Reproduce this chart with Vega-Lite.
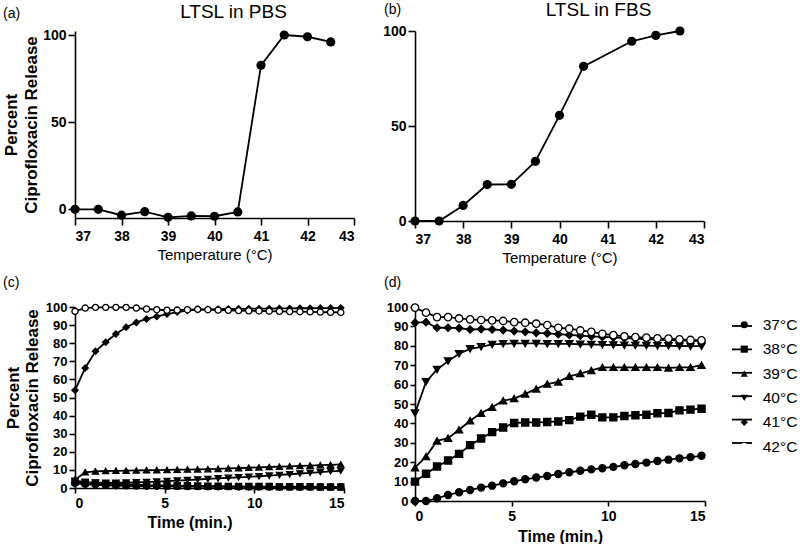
{
"$schema": "https://vega.github.io/schema/vega-lite/v6.json",
"background": "white",
"padding": {"left": 2, "top": 0, "right": 0, "bottom": 0},
"config": {
 "font": "Liberation Sans",
 "view": {"stroke": null},
 "axis": {"domainColor": "black", "domainWidth": 1.6, "tickColor": "black", "tickWidth": 1.6, "tickSize": 5, "labelColor": "black", "labelFont": "Liberation Sans", "labelFontWeight": "bold", "labelFontSize": 14, "labelPadding": 3, "labelOverlap": false, "titleColor": "black", "titleFont": "Liberation Sans", "grid": false},
 "title": {"font": "Liberation Sans", "fontWeight": "normal", "fontSize": 14, "color": "black", "anchor": "start", "frame": "group"},
 "legend": {"labelFont": "Liberation Sans", "labelColor": "black"}
},
"datasets": {
 "pbs": [
  {"T": 37, "R": 0}, {"T": 37.5, "R": 0}, {"T": 38, "R": -3.4}, {"T": 38.5, "R": -1.4}, {"T": 39, "R": -4.6}, {"T": 39.5, "R": -3.8}, {"T": 40, "R": -4}, {"T": 40.5, "R": -1.5}, {"T": 41, "R": 82.6}, {"T": 41.5, "R": 100}, {"T": 42, "R": 99}, {"T": 42.5, "R": 96}
 ],
 "fbs": [
  {"T": 37, "R": 0}, {"T": 37.5, "R": 0}, {"T": 38, "R": 8.2}, {"T": 38.5, "R": 19.2}, {"T": 39, "R": 19.3}, {"T": 39.5, "R": 31.4}, {"T": 40, "R": 55.6}, {"T": 40.5, "R": 81.4}, {"T": 41.5, "R": 94.6}, {"T": 42, "R": 97.7}, {"T": 42.5, "R": 100}
 ],
 "kc": [
  {"s":"37°C","t":0,"r":2.5},{"s":"37°C","t":0.57,"r":2},{"s":"37°C","t":1.14,"r":1.8},{"s":"37°C","t":1.71,"r":1.5},{"s":"37°C","t":2.28,"r":1.3},{"s":"37°C","t":2.85,"r":1.2},{"s":"37°C","t":3.42,"r":1.1},{"s":"37°C","t":3.99,"r":1},{"s":"37°C","t":4.56,"r":1},{"s":"37°C","t":5.13,"r":0.9},{"s":"37°C","t":5.7,"r":0.9},{"s":"37°C","t":6.27,"r":0.8},{"s":"37°C","t":6.84,"r":0.8},{"s":"37°C","t":7.41,"r":0.7},{"s":"37°C","t":7.98,"r":0.7},{"s":"37°C","t":8.55,"r":0.7},{"s":"37°C","t":9.12,"r":0.6},{"s":"37°C","t":9.69,"r":0.6},{"s":"37°C","t":10.26,"r":0.6},{"s":"37°C","t":10.83,"r":0.5},{"s":"37°C","t":11.4,"r":0.5},{"s":"37°C","t":11.97,"r":0.5},{"s":"37°C","t":12.54,"r":0.5},{"s":"37°C","t":13.11,"r":0.5},{"s":"37°C","t":13.68,"r":0.5},{"s":"37°C","t":14.25,"r":0.5},{"s":"37°C","t":14.82,"r":0.5},
  {"s":"38°C","t":0,"r":3.5},{"s":"38°C","t":0.57,"r":3},{"s":"38°C","t":1.14,"r":2.7},{"s":"38°C","t":1.71,"r":2.4},{"s":"38°C","t":2.28,"r":2.2},{"s":"38°C","t":2.85,"r":2},{"s":"38°C","t":3.42,"r":1.8},{"s":"38°C","t":3.99,"r":1.6},{"s":"38°C","t":4.56,"r":1.5},{"s":"38°C","t":5.13,"r":1.4},{"s":"38°C","t":5.7,"r":1.3},{"s":"38°C","t":6.27,"r":1.2},{"s":"38°C","t":6.84,"r":1.1},{"s":"38°C","t":7.41,"r":1},{"s":"38°C","t":7.98,"r":1},{"s":"38°C","t":8.55,"r":0.9},{"s":"38°C","t":9.12,"r":0.9},{"s":"38°C","t":9.69,"r":0.8},{"s":"38°C","t":10.26,"r":0.8},{"s":"38°C","t":10.83,"r":0.8},{"s":"38°C","t":11.4,"r":0.7},{"s":"38°C","t":11.97,"r":0.7},{"s":"38°C","t":12.54,"r":0.7},{"s":"38°C","t":13.11,"r":0.7},{"s":"38°C","t":13.68,"r":0.6},{"s":"38°C","t":14.25,"r":0.6},{"s":"38°C","t":14.82,"r":0.6},
  {"s":"39°C","t":0,"r":4.6},{"s":"39°C","t":0.57,"r":8.7},{"s":"39°C","t":1.14,"r":9.2},{"s":"39°C","t":1.71,"r":9.4},{"s":"39°C","t":2.28,"r":9.5},{"s":"39°C","t":2.85,"r":9.6},{"s":"39°C","t":3.42,"r":9.7},{"s":"39°C","t":3.99,"r":9.8},{"s":"39°C","t":4.56,"r":9.9},{"s":"39°C","t":5.13,"r":10},{"s":"39°C","t":5.7,"r":10.1},{"s":"39°C","t":6.27,"r":10.2},{"s":"39°C","t":6.84,"r":10.3},{"s":"39°C","t":7.41,"r":10.4},{"s":"39°C","t":7.98,"r":10.6},{"s":"39°C","t":8.55,"r":10.8},{"s":"39°C","t":9.12,"r":11},{"s":"39°C","t":9.69,"r":11.2},{"s":"39°C","t":10.26,"r":11.4},{"s":"39°C","t":10.83,"r":11.6},{"s":"39°C","t":11.4,"r":11.8},{"s":"39°C","t":11.97,"r":12},{"s":"39°C","t":12.54,"r":12.2},{"s":"39°C","t":13.11,"r":12.4},{"s":"39°C","t":13.68,"r":12.6},{"s":"39°C","t":14.25,"r":12.8},{"s":"39°C","t":14.82,"r":13},
  {"s":"40°C","t":0,"r":4},{"s":"40°C","t":0.57,"r":3.3},{"s":"40°C","t":1.14,"r":3},{"s":"40°C","t":1.71,"r":2.9},{"s":"40°C","t":2.28,"r":2.9},{"s":"40°C","t":2.85,"r":3},{"s":"40°C","t":3.42,"r":3.1},{"s":"40°C","t":3.99,"r":3.3},{"s":"40°C","t":4.56,"r":3.5},{"s":"40°C","t":5.13,"r":3.8},{"s":"40°C","t":5.7,"r":4.1},{"s":"40°C","t":6.27,"r":4.4},{"s":"40°C","t":6.84,"r":4.7},{"s":"40°C","t":7.41,"r":5},{"s":"40°C","t":7.98,"r":5.3},{"s":"40°C","t":8.55,"r":5.6},{"s":"40°C","t":9.12,"r":5.9},{"s":"40°C","t":9.69,"r":6.2},{"s":"40°C","t":10.26,"r":6.5},{"s":"40°C","t":10.83,"r":6.8},{"s":"40°C","t":11.4,"r":7.2},{"s":"40°C","t":11.97,"r":7.6},{"s":"40°C","t":12.54,"r":8},{"s":"40°C","t":13.11,"r":8.4},{"s":"40°C","t":13.68,"r":8.8},{"s":"40°C","t":14.25,"r":9.2},{"s":"40°C","t":14.82,"r":9.5},
  {"s":"41°C","t":0,"r":54},{"s":"41°C","t":0.57,"r":66.3},{"s":"41°C","t":1.14,"r":75.5},{"s":"41°C","t":1.71,"r":80.5},{"s":"41°C","t":2.28,"r":85.1},{"s":"41°C","t":2.85,"r":88.8},{"s":"41°C","t":3.42,"r":91.5},{"s":"41°C","t":3.99,"r":93.4},{"s":"41°C","t":4.56,"r":94.8},{"s":"41°C","t":5.13,"r":96.1},{"s":"41°C","t":5.7,"r":97.2},{"s":"41°C","t":6.27,"r":98},{"s":"41°C","t":6.84,"r":98.5},{"s":"41°C","t":7.41,"r":98.7},{"s":"41°C","t":7.98,"r":98.8},{"s":"41°C","t":8.55,"r":98.9},{"s":"41°C","t":9.12,"r":99},{"s":"41°C","t":9.69,"r":99},{"s":"41°C","t":10.26,"r":99.1},{"s":"41°C","t":10.83,"r":99.1},{"s":"41°C","t":11.4,"r":99.2},{"s":"41°C","t":11.97,"r":99.2},{"s":"41°C","t":12.54,"r":99.3},{"s":"41°C","t":13.11,"r":99.3},{"s":"41°C","t":13.68,"r":99.4},{"s":"41°C","t":14.25,"r":99.4},{"s":"41°C","t":14.82,"r":99.5},
  {"s":"42°C","t":0,"r":97.6},{"s":"42°C","t":0.57,"r":99.4},{"s":"42°C","t":1.14,"r":99.8},{"s":"42°C","t":1.71,"r":99.8},{"s":"42°C","t":2.28,"r":99.8},{"s":"42°C","t":2.85,"r":99.8},{"s":"42°C","t":3.42,"r":99.4},{"s":"42°C","t":3.99,"r":98.9},{"s":"42°C","t":4.56,"r":98.5},{"s":"42°C","t":5.13,"r":98.2},{"s":"42°C","t":5.7,"r":98.3},{"s":"42°C","t":6.27,"r":98.5},{"s":"42°C","t":6.84,"r":98.7},{"s":"42°C","t":7.41,"r":98.5},{"s":"42°C","t":7.98,"r":98.3},{"s":"42°C","t":8.55,"r":98.2},{"s":"42°C","t":9.12,"r":98},{"s":"42°C","t":9.69,"r":97.9},{"s":"42°C","t":10.26,"r":97.8},{"s":"42°C","t":10.83,"r":97.7},{"s":"42°C","t":11.4,"r":97.6},{"s":"42°C","t":11.97,"r":97.5},{"s":"42°C","t":12.54,"r":97.4},{"s":"42°C","t":13.11,"r":97.3},{"s":"42°C","t":13.68,"r":97.2},{"s":"42°C","t":14.25,"r":97.1},{"s":"42°C","t":14.82,"r":97}
 ],
 "kd": [
  {"s":"37°C","t":0,"r":0},{"s":"37°C","t":0.57,"r":0},{"s":"37°C","t":1.14,"r":1.4},{"s":"37°C","t":1.71,"r":3.1},{"s":"37°C","t":2.28,"r":4.5},{"s":"37°C","t":2.85,"r":5.7},{"s":"37°C","t":3.42,"r":6.9},{"s":"37°C","t":3.99,"r":7.9},{"s":"37°C","t":4.56,"r":9.1},{"s":"37°C","t":5.13,"r":10.2},{"s":"37°C","t":5.7,"r":11.2},{"s":"37°C","t":6.27,"r":12.1},{"s":"37°C","t":6.84,"r":12.9},{"s":"37°C","t":7.41,"r":13.9},{"s":"37°C","t":7.98,"r":14.8},{"s":"37°C","t":8.55,"r":15.6},{"s":"37°C","t":9.12,"r":16.3},{"s":"37°C","t":9.69,"r":16.9},{"s":"37°C","t":10.26,"r":17.6},{"s":"37°C","t":10.83,"r":18.4},{"s":"37°C","t":11.4,"r":19.1},{"s":"37°C","t":11.97,"r":19.8},{"s":"37°C","t":12.54,"r":20.6},{"s":"37°C","t":13.11,"r":21.3},{"s":"37°C","t":13.68,"r":22},{"s":"37°C","t":14.25,"r":22.6},{"s":"37°C","t":14.82,"r":23.3},
  {"s":"38°C","t":0,"r":10},{"s":"38°C","t":0.57,"r":14},{"s":"38°C","t":1.14,"r":17.8},{"s":"38°C","t":1.71,"r":20.9},{"s":"38°C","t":2.28,"r":24.3},{"s":"38°C","t":2.85,"r":28.8},{"s":"38°C","t":3.42,"r":32.2},{"s":"38°C","t":3.99,"r":35.5},{"s":"38°C","t":4.56,"r":37.9},{"s":"38°C","t":5.13,"r":40.2},{"s":"38°C","t":5.7,"r":40.5},{"s":"38°C","t":6.27,"r":40.5},{"s":"38°C","t":6.84,"r":40.7},{"s":"38°C","t":7.41,"r":41},{"s":"38°C","t":7.98,"r":41.7},{"s":"38°C","t":8.55,"r":43.5},{"s":"38°C","t":9.12,"r":44.5},{"s":"38°C","t":9.69,"r":43.1},{"s":"38°C","t":10.26,"r":43.1},{"s":"38°C","t":10.83,"r":43.8},{"s":"38°C","t":11.4,"r":44.2},{"s":"38°C","t":11.97,"r":44.5},{"s":"38°C","t":12.54,"r":45.2},{"s":"38°C","t":13.11,"r":45.4},{"s":"38°C","t":13.68,"r":46.7},{"s":"38°C","t":14.25,"r":47.1},{"s":"38°C","t":14.82,"r":47.6},
  {"s":"39°C","t":0,"r":17.2},{"s":"39°C","t":0.57,"r":22.9},{"s":"39°C","t":1.14,"r":31},{"s":"39°C","t":1.71,"r":32.4},{"s":"39°C","t":2.28,"r":36.7},{"s":"39°C","t":2.85,"r":41.4},{"s":"39°C","t":3.42,"r":45.3},{"s":"39°C","t":3.99,"r":48.3},{"s":"39°C","t":4.56,"r":51.7},{"s":"39°C","t":5.13,"r":52.8},{"s":"39°C","t":5.7,"r":55.2},{"s":"39°C","t":6.27,"r":57.8},{"s":"39°C","t":6.84,"r":60.3},{"s":"39°C","t":7.41,"r":61.4},{"s":"39°C","t":7.98,"r":64.3},{"s":"39°C","t":8.55,"r":65.7},{"s":"39°C","t":9.12,"r":67.3},{"s":"39°C","t":9.69,"r":68.9},{"s":"39°C","t":10.26,"r":68.9},{"s":"39°C","t":10.83,"r":68.9},{"s":"39°C","t":11.4,"r":68.9},{"s":"39°C","t":11.97,"r":68.9},{"s":"39°C","t":12.54,"r":68.9},{"s":"39°C","t":13.11,"r":68.6},{"s":"39°C","t":13.68,"r":68.9},{"s":"39°C","t":14.25,"r":68.9},{"s":"39°C","t":14.82,"r":70},
  {"s":"40°C","t":0,"r":45.3},{"s":"40°C","t":0.57,"r":61.4},{"s":"40°C","t":1.14,"r":67.8},{"s":"40°C","t":1.71,"r":72.1},{"s":"40°C","t":2.28,"r":75.9},{"s":"40°C","t":2.85,"r":78.4},{"s":"40°C","t":3.42,"r":79.5},{"s":"40°C","t":3.99,"r":80.7},{"s":"40°C","t":4.56,"r":81},{"s":"40°C","t":5.13,"r":81.2},{"s":"40°C","t":5.7,"r":81.2},{"s":"40°C","t":6.27,"r":81.2},{"s":"40°C","t":6.84,"r":81},{"s":"40°C","t":7.41,"r":81},{"s":"40°C","t":7.98,"r":81},{"s":"40°C","t":8.55,"r":80.8},{"s":"40°C","t":9.12,"r":80.7},{"s":"40°C","t":9.69,"r":80.5},{"s":"40°C","t":10.26,"r":80.4},{"s":"40°C","t":10.83,"r":80.3},{"s":"40°C","t":11.4,"r":80.2},{"s":"40°C","t":11.97,"r":80.1},{"s":"40°C","t":12.54,"r":80},{"s":"40°C","t":13.11,"r":80},{"s":"40°C","t":13.68,"r":79.9},{"s":"40°C","t":14.25,"r":79.8},{"s":"40°C","t":14.82,"r":79.8},
  {"s":"41°C","t":0,"r":91.9},{"s":"41°C","t":0.57,"r":92.2},{"s":"41°C","t":1.14,"r":89.3},{"s":"41°C","t":1.71,"r":89.3},{"s":"41°C","t":2.28,"r":89.1},{"s":"41°C","t":2.85,"r":88.4},{"s":"41°C","t":3.42,"r":88.6},{"s":"41°C","t":3.99,"r":88.4},{"s":"41°C","t":4.56,"r":88.1},{"s":"41°C","t":5.13,"r":87.6},{"s":"41°C","t":5.7,"r":87.2},{"s":"41°C","t":6.27,"r":86.7},{"s":"41°C","t":6.84,"r":86.4},{"s":"41°C","t":7.41,"r":86},{"s":"41°C","t":7.98,"r":85.6},{"s":"41°C","t":8.55,"r":85.2},{"s":"41°C","t":9.12,"r":84.9},{"s":"41°C","t":9.69,"r":84.6},{"s":"41°C","t":10.26,"r":84.3},{"s":"41°C","t":10.83,"r":84},{"s":"41°C","t":11.4,"r":83.7},{"s":"41°C","t":11.97,"r":83.4},{"s":"41°C","t":12.54,"r":83.2},{"s":"41°C","t":13.11,"r":83},{"s":"41°C","t":13.68,"r":82.8},{"s":"41°C","t":14.25,"r":82.6},{"s":"41°C","t":14.82,"r":82.5},
  {"s":"42°C","t":0,"r":99.7},{"s":"42°C","t":0.57,"r":97.1},{"s":"42°C","t":1.14,"r":94.8},{"s":"42°C","t":1.71,"r":94.8},{"s":"42°C","t":2.28,"r":94.1},{"s":"42°C","t":2.85,"r":93.6},{"s":"42°C","t":3.42,"r":93.3},{"s":"42°C","t":3.99,"r":93.1},{"s":"42°C","t":4.56,"r":92.8},{"s":"42°C","t":5.13,"r":92.2},{"s":"42°C","t":5.7,"r":91.9},{"s":"42°C","t":6.27,"r":91.4},{"s":"42°C","t":6.84,"r":90.7},{"s":"42°C","t":7.41,"r":89.3},{"s":"42°C","t":7.98,"r":88.8},{"s":"42°C","t":8.55,"r":87.9},{"s":"42°C","t":9.12,"r":87.2},{"s":"42°C","t":9.69,"r":86.2},{"s":"42°C","t":10.26,"r":85.5},{"s":"42°C","t":10.83,"r":84.9},{"s":"42°C","t":11.4,"r":84.5},{"s":"42°C","t":11.97,"r":84.2},{"s":"42°C","t":12.54,"r":83.8},{"s":"42°C","t":13.11,"r":83.7},{"s":"42°C","t":13.68,"r":83.3},{"s":"42°C","t":14.25,"r":83},{"s":"42°C","t":14.82,"r":82.8}
 ]
},
"columns": 2,
"bounds": "flush",
"spacing": {"row": 86, "column": 61},
"resolve": {"scale": {"shape": "independent", "fill": "independent", "size": "independent", "stroke": "independent"}, "legend": {"shape": "independent", "fill": "independent", "size": "independent", "stroke": "independent"}},
"concat": [
 {
  "width": 279, "height": 187,
  "title": {"text": "(a)", "dx": -72, "offset": -18.5},
  "data": {"name": "pbs"},
  "encoding": {
   "y": {"field": "R", "type": "quantitative", "scale": {"domain": [-5, 102.3], "nice": false, "zero": false}, "axis": {"values": [0, 50, 100], "labelOverlap": false, "tickSize": 7, "labelPadding": 2, "title": ["Percent", "Ciprofloxacin Release"], "titleFontSize": 17, "titleFontWeight": "bold", "titleLineHeight": 20, "titlePadding": 2}}
  },
  "layer": [
   {"mark": {"type": "line", "color": "black", "strokeWidth": 1.8},
    "encoding": {
     "x": {"field": "T", "type": "quantitative", "scale": {"domain": [37, 43], "nice": false, "zero": false}, "axis": {"values": [37, 38, 39, 40, 41, 42, 43], "tickSize": 7, "labelPadding": 4, "title": "Temperature (°C)", "titleFontWeight": "normal", "titleFontSize": 15, "titlePadding": 4}}}},
   {"mark": {"type": "point", "filled": true, "color": "black", "size": 85, "opacity": 1},
    "encoding": {
     "x": {"field": "T", "type": "quantitative", "axis": {"orient": "top", "domain": false, "ticks": false, "labels": false, "title": "LTSL in PBS", "titleFontSize": 19, "titleFontWeight": "normal", "titlePadding": 10, "titleX": 158}}}}
  ],
  "resolve": {"axis": {"x": "independent"}}
 },
 {
  "width": 289, "height": 190,
  "title": {"text": "(b)", "dx": -31, "offset": -17},
  "data": {"name": "fbs"},
  "encoding": {
   "y": {"field": "R", "type": "quantitative", "scale": {"domain": [0, 100], "nice": false}, "axis": {"values": [0, 50, 100], "labelOverlap": false, "tickSize": 7, "labelPadding": 2, "title": null}}
  },
  "layer": [
   {"mark": {"type": "line", "color": "black", "strokeWidth": 1.8},
    "encoding": {
     "x": {"field": "T", "type": "quantitative", "scale": {"domain": [37, 43], "nice": false, "zero": false}, "axis": {"values": [37, 38, 39, 40, 41, 42, 43], "tickSize": 7, "labelPadding": 4, "title": "Temperature (°C)", "titleFontWeight": "normal", "titleFontSize": 15, "titlePadding": 4}}}},
   {"mark": {"type": "point", "filled": true, "color": "black", "size": 85, "opacity": 1},
    "encoding": {
     "x": {"field": "T", "type": "quantitative", "axis": {"orient": "top", "domain": false, "ticks": false, "labels": false, "title": "LTSL in FBS", "titleFontSize": 19, "titleFontWeight": "normal", "titlePadding": 12, "titleX": 183}}}}
  ],
  "resolve": {"axis": {"x": "independent"}}
 },
 {
  "width": 269, "height": 181,
  "title": {"text": "(c)", "dx": -72, "offset": 11},
  "data": {"name": "kc"},
  "encoding": {
   "x": {"field": "t", "type": "quantitative", "scale": {"domain": [0, 15], "nice": false}, "axis": {"values": [0, 5, 10, 15], "labelPadding": 3, "title": "Time (min.)", "titleFontWeight": "bold", "titleFontSize": 16, "titlePadding": 4, "titleX": 114.5}},
   "y": {"field": "r", "type": "quantitative", "scale": {"domain": [0, 100], "nice": false}, "axis": {"values": [0, 10, 20, 30, 40, 50, 60, 70, 80, 90, 100], "labelOverlap": false, "labelFontSize": 13, "tickSize": 6, "labelPadding": 2, "title": ["Percent", "Ciprofloxacin Release"], "titleFontSize": 17, "titleFontWeight": "bold", "titleLineHeight": 19, "titlePadding": 4}}
  },
  "layer": [
   {"mark": {"type": "line", "color": "black", "strokeWidth": 1.8},
    "encoding": {"detail": {"field": "s"}}},
   {"mark": {"type": "point", "filled": true, "stroke": "black", "strokeWidth": 1.3, "opacity": 1},
    "encoding": {
     "shape": {"field": "s", "type": "nominal", "scale": {"range": ["circle", "square", "triangle-up", "triangle-down", "diamond", "circle"]}, "legend": null},
     "fill": {"field": "s", "type": "nominal", "scale": {"range": ["black", "black", "black", "black", "black", "white"]}, "legend": null},
     "size": {"field": "s", "type": "nominal", "scale": {"range": [38, 38, 40, 40, 22, 45]}, "legend": null}}}
  ]
 },
 {
  "width": 290, "height": 194,
  "title": {"text": "(d)", "dx": -31, "offset": 11},
  "data": {"name": "kd"},
  "encoding": {
   "x": {"field": "t", "type": "quantitative", "scale": {"domain": [0, 15], "nice": false}, "axis": {"values": [0, 5, 10, 15], "labelPadding": 3, "title": "Time (min.)", "titleFontWeight": "bold", "titleFontSize": 16, "titlePadding": 5}},
   "y": {"field": "r", "type": "quantitative", "scale": {"domain": [0, 100], "nice": false}, "axis": {"values": [0, 10, 20, 30, 40, 50, 60, 70, 80, 90, 100], "labelOverlap": false, "labelFontSize": 13, "tickSize": 5, "labelPadding": 2, "title": null}}
  },
  "layer": [
   {"mark": {"type": "line", "strokeWidth": 1.8},
    "encoding": {
     "stroke": {"field": "s", "type": "nominal", "scale": {"domain": ["37°C", "38°C", "39°C", "40°C", "41°C", "42°C"], "range": ["black", "black", "black", "black", "black", "black"]},
       "legend": {"orient": "none", "legendX": 316, "legendY": 8, "title": null, "symbolType": "stroke", "symbolSize": 400, "symbolStrokeWidth": 1.8, "labelExpr": "''", "labelFontSize": 15.5, "labelOffset": 6, "rowPadding": 3.4, "zindex": 0}}}},
   {"mark": {"type": "point", "filled": true, "stroke": "black", "strokeWidth": 1.3, "opacity": 1},
    "encoding": {
     "shape": {"field": "s", "type": "nominal", "scale": {"range": ["circle", "square", "triangle-up", "triangle-down", "diamond", "circle"]},
       "legend": {"orient": "none", "legendX": 321.5, "legendY": 10, "title": null, "labelFontSize": 15.5, "labelOffset": 10.7, "rowPadding": 7.4, "symbolStrokeColor": "black", "symbolStrokeWidth": 1.3, "zindex": 1}},
     "fill": {"field": "s", "type": "nominal", "scale": {"range": ["black", "black", "black", "black", "black", "white"]},
       "legend": {"orient": "none", "legendX": 321.5, "legendY": 10, "title": null, "labelFontSize": 15.5, "labelOffset": 10.7, "rowPadding": 7.4, "symbolStrokeColor": "black", "symbolStrokeWidth": 1.3, "zindex": 1}},
     "size": {"field": "s", "type": "nominal", "scale": {"range": [50, 55, 55, 55, 28, 64]},
       "legend": {"orient": "none", "legendX": 321.5, "legendY": 10, "title": null, "labelFontSize": 15.5, "labelOffset": 10.7, "rowPadding": 7.4, "symbolStrokeColor": "black", "symbolStrokeWidth": 1.3, "zindex": 1}}}}
  ]
 }
]
}
